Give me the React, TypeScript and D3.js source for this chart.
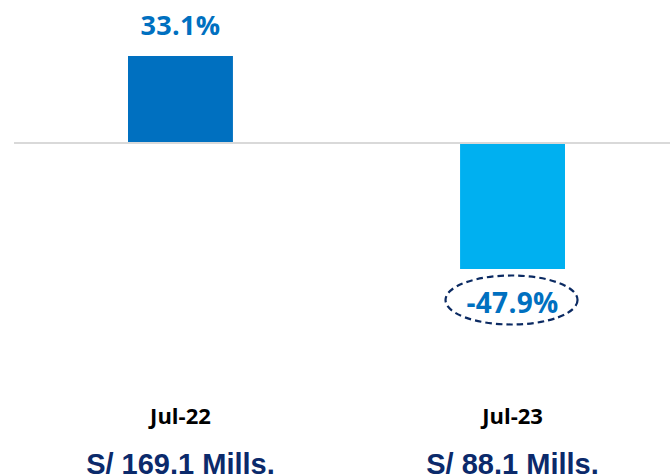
import React from "react";
import * as d3 from "d3";

const categories = ["Jul-22", "Jul-23"];
const values = [33.1, -47.9];
const valueLabels = ["33.1%", "-47.9%"];
const amountLabels = ["S/ 169.1 Mills.", "S/ 88.1 Mills."];
const barColors = ["#0070C0", "#00B0F0"];

const W = 670;
const H = 476;

export default function App() {
  const x = d3.scaleBand<string>().domain(categories).range([128, 565]).paddingInner(0.684).paddingOuter(0);
  const y = d3.scaleLinear().domain([-47.9, 33.1]).range([269, 56]);
  const y0 = y(0);
  const pctFont = "'Open Sans', Lato, sans-serif";
  return (
    <svg width={W} height={H} style={{ position: "absolute", left: 0, top: 0, background: "#fff" }}>
      {categories.map((c, i) => {
        const v = values[i];
        const bx = x(c)!;
        const bw = x.bandwidth();
        const top = Math.min(y(v), y0);
        const h = Math.abs(y(v) - y0);
        const cx = bx + bw / 2;
        return (
          <g key={c}>
            <rect x={bx} y={top} width={bw} height={h} fill={barColors[i]} />
            {v >= 0 ? (
              <text x={cx} y={y(v) - 21} textAnchor="middle" fontFamily={pctFont} fontWeight={700} fontSize={27} letterSpacing={0.3} fill="#0070C0">
                {valueLabels[i]}
              </text>
            ) : (
              <g>
                <ellipse cx={cx - 1} cy={y(v) + 31} rx={66} ry={24.5} fill="none" stroke="#0B2A62" strokeWidth={2.2} strokeDasharray="6.5 4" />
                <text x={cx} y={y(v) + 44} textAnchor="middle" fontFamily={pctFont} fontWeight={700} fontSize={28} letterSpacing={0.3} fill="#0070C0">
                  {valueLabels[i]}
                </text>
              </g>
            )}
            <text x={cx} y={424} textAnchor="middle" fontFamily={pctFont} fontWeight={700} fontSize={22} fill="#000">
              {c}
            </text>
            <text x={cx} y={474} textAnchor="middle" fontFamily="'Liberation Sans', Arial, sans-serif" fontWeight={700} fontSize={29} fill="#0B2A6B">
              {amountLabels[i]}
            </text>
          </g>
        );
      })}
      <line x1={14} x2={670} y1={y0} y2={y0} stroke="#D9D9D9" strokeWidth={2} />
    </svg>
  );
}
